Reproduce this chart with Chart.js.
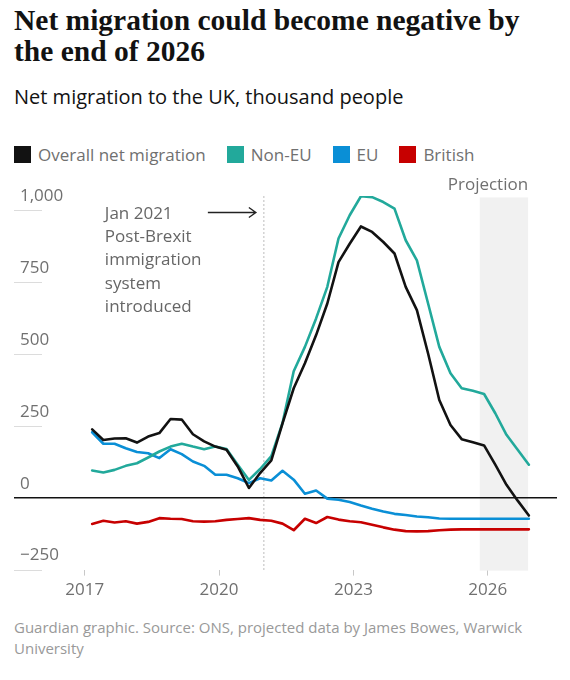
<!DOCTYPE html>
<html>
<head>
<meta charset="utf-8">
<script src="https://cdn.jsdelivr.net/npm/chart.js@4"></script>
<style>
  body { margin: 0; width: 570px; height: 680px; background: #fff; position: relative; overflow: hidden; }
  .title { position: absolute; left: 14px; top: 5px; width: 556px; font-family: "Liberation Serif", serif; font-weight: bold; font-size: 29.5px; line-height: 31px; color: #121212; }
  .sub { position: absolute; left: 14px; top: 83px; font-family: "Open Sans", sans-serif; font-size: 20px; color: #121212; }
  .legend { position: absolute; left: 14px; top: 143px; font-family: "Open Sans", sans-serif; font-size: 17px; color: #707070; display: flex; }
  .legend span { display: flex; align-items: center; margin-right: 21px; }
  .legend i { display: inline-block; width: 17px; height: 17px; margin-right: 7px; }
  #wrap { position: absolute; left: 0; top: 170px; width: 570px; height: 440px; }
  .foot { position: absolute; left: 14px; top: 617px; width: 540px; font-family: "Open Sans", sans-serif; font-size: 15px; line-height: 21px; color: #999; }
</style>
</head>
<body>
<div class="title">Net migration could become negative by<br>the end of 2026</div>
<div class="sub">Net migration to the UK, thousand people</div>
<div class="legend" id="legend"></div>
<div id="wrap"><canvas id="myChart" width="570" height="440"></canvas></div>
<div class="foot">Guardian graphic. Source: ONS, projected data by James Bowes, Warwick University</div>

<script>
// year ending, quarterly
var quarters = [
    'Mar 2017', 'Jun 2017', 'Sep 2017', 'Dec 2017',
    'Mar 2018', 'Jun 2018', 'Sep 2018', 'Dec 2018',
    'Mar 2019', 'Jun 2019', 'Sep 2019', 'Dec 2019',
    'Mar 2020', 'Jun 2020', 'Sep 2020', 'Dec 2020',
    'Mar 2021', 'Jun 2021', 'Sep 2021', 'Dec 2021',
    'Mar 2022', 'Jun 2022', 'Sep 2022', 'Dec 2022',
    'Mar 2023', 'Jun 2023', 'Sep 2023', 'Dec 2023',
    'Mar 2024', 'Jun 2024', 'Sep 2024', 'Dec 2024',
    'Mar 2025', 'Jun 2025', 'Sep 2025', 'Dec 2025',
    'Mar 2026', 'Jun 2026', 'Sep 2026', 'Dec 2026'
];

var overall = [238, 201, 206, 207, 192, 213, 225, 274, 272, 221,
               196, 178, 167, 109, 34, 86, 130, 259, 381, 468,
               566, 676, 820, 884, 944, 925, 890, 850, 734, 653,
               502, 340, 253, 204, 193, 182, 115, 45, -10, -62];
var nonEU = [95, 88, 97, 111, 120, 140, 161, 178, 188, 178,
             169, 178, 170, 115, 62, 100, 145, 260, 440, 525,
             624, 734, 902, 983, 1049, 1046, 1029, 1006, 896, 826,
             676, 525, 433, 381, 372, 361, 294, 219, 167, 115];
var eu = [228, 188, 188, 172, 159, 155, 138, 169, 152, 126,
          111, 80, 80, 68, 51, 68, 60, 94, 63, 14,
          25, -3, -7, -15, -27, -38, -48, -56, -60, -65,
          -68, -72, -73, -73, -73, -73, -73, -73, -73, -73];
var british = [-91, -80, -86, -82, -90, -84, -71, -73, -74, -82,
               -83, -82, -77, -74, -71, -77, -80, -90, -113, -73,
               -88, -67, -76, -82, -85, -94, -103, -111, -116, -117,
               -116, -113, -111, -110, -110, -110, -110, -110, -110, -110];

var seriesNames = ['Overall net migration', 'Non-EU', 'EU', 'British'];
var seriesColors = ['#121212', '#22a99b', '#0a8fd6', '#c70000'];

var xTicks = [2017, 2020, 2023, 2026];
var yTicks = [-250, 0, 250, 500, 750, 1000];

var brexitDate = 2021.0;
var projectionStart = 2025.82;
var projectionEnd = 2026.9;
var annotationLines = ['Jan 2021', 'Post-Brexit', 'immigration', 'system', 'introduced'];

var months = { Mar: 2, Jun: 5, Sep: 8, Dec: 11 };
function toYear(q) {
    var p = q.split(' ');
    return parseInt(p[1]) + months[p[0]] / 12;
}
function points(values) {
    return values.map(function(v, i) { return { x: toYear(quarters[i]), y: v }; });
}

// legend
var legendHtml = '';
for (var i = 0; i < seriesNames.length; i++) {
    legendHtml += '<span><i style="background:' + seriesColors[i] + '"></i>' + seriesNames[i] + '</span>';
}
document.getElementById('legend').innerHTML = legendHtml;

var sans = '"Open Sans", sans-serif';

var extras = {
    id: 'extras',
    beforeDatasetsDraw: function(chart) {
        var ctx = chart.ctx, x = chart.scales.x, y = chart.scales.y, area = chart.chartArea;
        ctx.save();
        // projection shading
        ctx.fillStyle = '#f1f1f1';
        var x0 = x.getPixelForValue(projectionStart), x1 = x.getPixelForValue(projectionEnd);
        var top = y.getPixelForValue(1045);
        ctx.fillRect(x0, top, x1 - x0, area.bottom + 1 - top);
        // brexit dotted line
        var bx = x.getPixelForValue(brexitDate);
        ctx.strokeStyle = '#bdbdbd';
        ctx.lineWidth = 1;
        ctx.setLineDash([2, 2]);
        ctx.beginPath();
        ctx.moveTo(bx, area.top);
        ctx.lineTo(bx, area.bottom + 1);
        ctx.stroke();
        ctx.setLineDash([]);
        // short grid lines under the y labels
        ctx.strokeStyle = '#dcdcdc';
        y.ticks.forEach(function(t) {
            if (t.value === 0) return;
            var py = Math.round(y.getPixelForValue(t.value)) + 0.5;
            ctx.beginPath();
            ctx.moveTo(14, py);
            ctx.lineTo(42, py);
            ctx.stroke();
        });
        // zero line
        var zy = y.getPixelForValue(0);
        ctx.strokeStyle = '#121212';
        ctx.lineWidth = 1.5;
        ctx.beginPath();
        ctx.moveTo(14, zy);
        ctx.lineTo(557, zy);
        ctx.stroke();
        ctx.restore();
    },
    afterDraw: function(chart) {
        var ctx = chart.ctx, x = chart.scales.x, y = chart.scales.y;
        var bx = x.getPixelForValue(brexitDate);
        ctx.save();
        ctx.font = '17px ' + sans;
        ctx.fillStyle = '#666';
        ctx.textBaseline = 'alphabetic';
        ctx.textAlign = 'left';
        annotationLines.forEach(function(line, i) {
            ctx.fillText(line, bx - 159, 49 + i * 23.2);
        });
        // arrow
        var ay = 42.5;
        ctx.strokeStyle = '#222';
        ctx.lineWidth = 1.4;
        ctx.beginPath();
        ctx.moveTo(bx - 56, ay);
        ctx.lineTo(bx - 8, ay);
        ctx.moveTo(bx - 15, ay - 5);
        ctx.lineTo(bx - 8, ay);
        ctx.lineTo(bx - 15, ay + 5);
        ctx.stroke();
        // projection label
        ctx.fillStyle = '#707070';
        ctx.textAlign = 'right';
        ctx.fillText('Projection', x.getPixelForValue(projectionEnd), 20);
        ctx.restore();
    }
};

var datasets = [overall, nonEU, eu, british].map(function(vals, i) {
    return {
        label: seriesNames[i],
        data: points(vals),
        borderColor: seriesColors[i],
        backgroundColor: seriesColors[i],
        borderWidth: 2.6,
        pointRadius: 0,
        tension: 0,
        borderJoinStyle: 'round',
        borderCapStyle: 'round'
    };
});

var chart = new Chart(document.getElementById('myChart').getContext('2d'), {
    type: 'line',
    data: { datasets: datasets },
    options: {
        responsive: false,
        animation: false,
        layout: { padding: { left: 4.5, right: 15, top: 26, bottom: 6 } },
        plugins: { legend: { display: false }, tooltip: { enabled: false } },
        scales: {
            x: {
                type: 'linear',
                min: 2015.5,
                max: 2027.5,
                afterBuildTicks: function(axis) {
                    axis.ticks = xTicks.map(function(v) { return { value: v }; });
                },
                grid: { drawOnChartArea: false, drawTicks: true, tickLength: 6, color: '#c8c8c8' },
                border: { display: false },
                ticks: {
                    font: { family: sans, size: 17 },
                    color: '#707070',
                    padding: 4,
                    maxRotation: 0,
                    callback: function(v) { return String(v); }
                }
            },
            y: {
                min: -250,
                max: 1050,
                afterBuildTicks: function(axis) {
                    axis.ticks = yTicks.map(function(v) { return { value: v }; });
                },
                grid: { display: false },
                border: { display: false },
                ticks: {
                    mirror: true,
                    padding: 2.5,
                    labelOffset: -14,
                    font: { family: sans, size: 17 },
                    color: '#707070',
                    callback: function(v) {
                        if (v < 0) return '\u2212' + Math.abs(v);
                        return v.toLocaleString('en-GB');
                    }
                }
            }
        }
    },
    plugins: [extras]
});
</script>
</body>
</html>
